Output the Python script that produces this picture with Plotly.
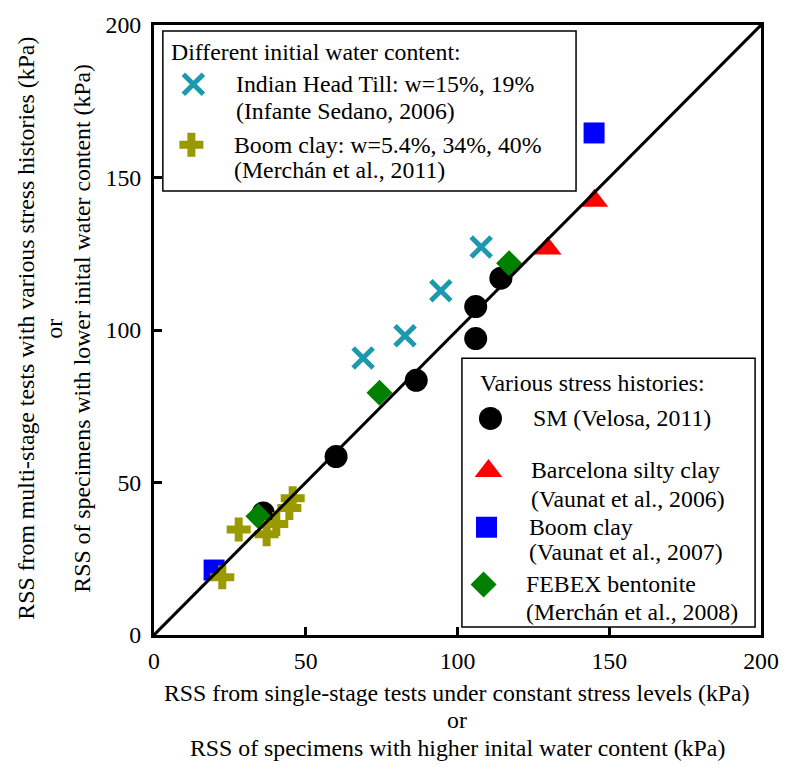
import plotly.graph_objects as go

# ---- data (kPa) ----
sm_x = [36.0, 60.0, 86.4, 106.0, 106.0, 114.3]
sm_y = [40.0, 58.5, 83.5, 97.2, 107.7, 117.0]

barcelona_x = [129.7, 145.1]
barcelona_y = [126.7, 142.4]

boom07_x = [19.8, 145.0]
boom07_y = [21.3, 164.6]

febex_x = [34.4, 74.3, 117.0]
febex_y = [38.9, 79.4, 121.9]

iht_x = [68.9, 82.7, 94.5, 107.8]
iht_y = [90.8, 98.1, 112.9, 127.2]

boom11_x = [22.5, 27.9, 37.1, 40.3, 44.6, 45.7]
boom11_y = [18.9, 34.6, 33.0, 36.4, 41.6, 44.8]

line_x = [0, 200]
line_y = [0, 200]

tick_vals = [0, 50, 100, 150, 200]

x_title = ["RSS from single-stage tests under constant stress levels (kPa)", "or",
           "RSS of specimens with higher inital water content (kPa)"]
y_title = ["RSS from multi-stage tests with various stress histories (kPa)", "or",
           "RSS of specimens with lower inital water content (kPa)"]

# ---- styling ----
W, H = 791, 773
L, R, T, B = 154, 20, 18, 138
PW, PH = W - L - R, H - T - B
FONT = "Times New Roman, Liberation Serif, serif"
FS = 23.8
TEAL = "#1C98AF"
OLIVE = "#9A9A00"


def fx(px):
    return (px - L) / PW


def fy(py):
    return (H - B - py) / PH


series = [
    dict(name="SM (Velosa, 2011)", x=sm_x, y=sm_y,
         marker=dict(symbol="circle", size=23, color="black")),
    dict(name="Barcelona silty clay", x=barcelona_x, y=barcelona_y,
         marker=dict(symbol="triangle-up", size=24, color="#FF0000")),
    dict(name="Boom clay 2007", x=boom07_x, y=boom07_y,
         marker=dict(symbol="square", size=21, color="#0000FF")),
    dict(name="FEBEX bentonite", x=febex_x, y=febex_y,
         marker=dict(symbol="diamond", size=20, color="#008000")),
    dict(name="Indian Head Till", x=iht_x, y=iht_y,
         marker=dict(symbol="x-thin", size=20, color=TEAL,
                     line=dict(color=TEAL, width=5))),
    dict(name="Boom clay 2011", x=boom11_x, y=boom11_y,
         marker=dict(symbol="cross", size=20, color=OLIVE)),
]

fig = go.Figure()
for s in series:
    fig.add_trace(go.Scatter(x=s["x"], y=s["y"], mode="markers", name=s["name"],
                             marker=s["marker"], showlegend=False, cliponaxis=False))

fig.add_trace(go.Scatter(x=line_x, y=line_y, mode="lines",
                         line=dict(color="black", width=3), showlegend=False))

# legend keys drawn on an overlay axis spanning the plot area (0..1)
key_px = [(496, 416), (494, 469), (492, 526), (489, 584), (194, 78), (192, 139)]
for s, (kx, ky) in zip(series, key_px):
    fig.add_trace(go.Scatter(x=[fx(kx)], y=[fy(ky)], mode="markers",
                             marker=s["marker"], showlegend=False,
                             xaxis="x2", yaxis="y2", cliponaxis=False))

# legend boxes
shapes = []
for (x0, y0, x1, y1) in [(163, 24, 583, 186), (467, 355, 765, 627)]:
    shapes.append(dict(type="rect", xref="paper", yref="paper",
                       x0=fx(x0), x1=fx(x1), y0=fy(y1), y1=fy(y0),
                       line=dict(color="black", width=1.5),
                       fillcolor="white", layer="below"))

legend_lines = [
    ("Different initial water content:", 169, 45),
    ("Indian Head Till: w=15%, 19%", 235, 78),
    ("(Infante Sedano, 2006)", 235, 105),
    ("Boom clay: w=5.4%, 34%, 40%", 233, 139),
    ("(Merchán et al., 2011)", 233, 165),
    ("Various stress histories:", 483, 380),
    ("SM (Velosa, 2011)", 537, 416),
    ("Barcelona silty clay", 535, 468),
    ("(Vaunat et al., 2006)", 535, 497),
    ("Boom clay", 533, 526),
    ("(Vaunat et al., 2007)", 533, 551),
    ("FEBEX bentonite", 530, 583),
    ("(Merchán et al., 2008)", 530, 612),
]
text_font = dict(family=FONT, size=FS, color="black")
annotations = []
for text, ax_, ay_ in legend_lines:
    annotations.append(dict(text=text, xref="paper", yref="paper",
                            x=fx(ax_), y=fy(ay_), xanchor="left", yanchor="middle",
                            showarrow=False, font=text_font))

# axis titles, one annotation per line
for text, py in zip(x_title, [694, 721, 749]):
    annotations.append(dict(text=text, xref="paper", yref="paper", x=fx(462), y=fy(py),
                            xanchor="center", yanchor="middle", showarrow=False,
                            font=text_font))
for text, px in zip(y_title, [23, 51.5, 80]):
    annotations.append(dict(text=text, xref="paper", yref="paper", x=fx(px), y=fy(325),
                            xanchor="center", yanchor="middle", textangle=-90,
                            showarrow=False, font=text_font))

axis_common = dict(range=[0, 200], tickvals=tick_vals, ticks="inside", ticklen=8,
                   tickwidth=2.5, tickcolor="black", showline=True, linewidth=3,
                   linecolor="black", mirror=True, showgrid=False, zeroline=False,
                   tickfont=dict(family=FONT, size=FS, color="black"))

fig.update_layout(
    width=W, height=H, margin=dict(l=L, r=R, t=T, b=B),
    paper_bgcolor="white", plot_bgcolor="white",
    font=dict(family=FONT),
    xaxis=dict(axis_common, ticklabelstandoff=2),
    yaxis=dict(axis_common, ticklabelstandoff=5),
    xaxis2=dict(range=[0, 1], overlaying="x", visible=False, fixedrange=True),
    yaxis2=dict(range=[0, 1], overlaying="y", visible=False, fixedrange=True),
    shapes=shapes, annotations=annotations, showlegend=False,
)

fig.write_html("out.html")
